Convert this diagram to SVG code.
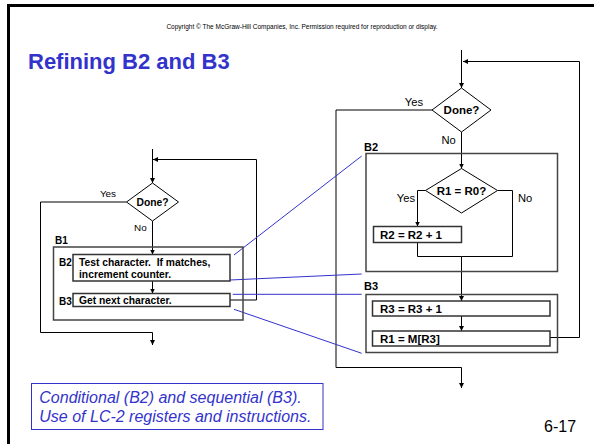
<svg xmlns="http://www.w3.org/2000/svg" width="594" height="444" viewBox="0 0 594 444">
<defs>
<marker id="ah" viewBox="0 0 10 10" refX="10" refY="5" markerWidth="5" markerHeight="5" markerUnits="userSpaceOnUse" orient="auto">
<path d="M0,0 L10,5 L0,10 z" fill="#000"/>
</marker>
</defs>
<style>
.ln{fill:none;stroke:#000;stroke-width:1}
.ar{fill:none;stroke:#000;stroke-width:1;marker-end:url(#ah)}
.bx{fill:#fff;stroke:#333;stroke-width:1.5}
.grp{fill:none;stroke:#444;stroke-width:1.5}
.dm{fill:#fff;stroke:#000;stroke-width:1}
.bl{stroke:#3333CC;stroke-width:1;fill:none}
text{font-family:"Liberation Sans",Arial,sans-serif;fill:#000}
.b{font-weight:bold}
.s{font-size:10.3px}
.m{font-size:11.5px}
</style>
<rect x="8.5" y="5.5" width="600" height="450" fill="#fff" stroke="#000" stroke-width="3"/>
<text x="302" y="28.5" font-size="6.5" text-anchor="middle" fill="#222">Copyright © The McGraw-Hill Companies, Inc.  Permission required for reproduction or display.</text>
<text x="28" y="68.5" font-size="22" class="b" style="fill:#3333CC">Refining B2 and B3</text>

<g id="connectors">
<!-- left chart -->
<path class="ar" d="M152.5,149 V183"/>
<path class="ar" d="M230,300 H256.5 V159.5 H153"/>
<path class="ar" d="M126.5,202 H40.5 V332.5 H152.5 V345"/>
<path class="ar" d="M152.5,221 V254.5"/>
<path class="ar" d="M152.5,281 V293.5"/>
<!-- right chart -->
<path class="ar" d="M461.5,50 V88"/>
<path class="ar" d="M550,337.5 H579.5 V61.5 H463"/>
<path class="ar" d="M432,110 H336 V367.5 H461.5 V388"/>
<path class="ar" d="M461.5,132 V168.5"/>
<path class="ar" d="M425.5,190.5 H417.5 V226.5"/>
<path class="ln" d="M497.5,190.5 H512.5 V256.5 H461.5"/>
<path class="ar" d="M417.5,242.5 V256.5 H461.5 V301"/>
<path class="ar" d="M461.5,316 V331"/>
<!-- blue mapping lines -->
<line class="bl" x1="234" y1="255" x2="361.7" y2="156"/>
<line class="bl" x1="230" y1="280" x2="361.7" y2="274"/>
<line class="bl" x1="232.7" y1="294.3" x2="361.7" y2="294.3"/>
<line class="bl" x1="234" y1="309.3" x2="361.7" y2="353.3"/>
</g>

<g id="left-done">
<polygon class="dm" points="152.5,183 178.5,202 152.5,221 126.5,202"/>
<text x="152.5" y="205.7" class="b s" text-anchor="middle">Done?</text>
<text x="116" y="197" font-size="9.9" text-anchor="end">Yes</text>
<text x="134" y="231" font-size="9.9">No</text>
</g>
<g id="left-B1">
<rect class="grp" x="53.5" y="247" width="189.5" height="73"/>
<text x="55" y="244" class="b" font-size="10">B1</text>
</g>
<g id="left-B2">
<rect class="bx" x="73" y="254.5" width="157" height="26.5"/>
<text x="59" y="266" class="b" font-size="10">B2</text>
<text x="79" y="266" class="b s">Test character.&#160; If matches,</text>
<text x="79" y="277.5" class="b s">increment counter.</text>
</g>
<g id="left-B3">
<rect class="bx" x="73" y="293.5" width="157" height="13"/>
<text x="59" y="304.5" class="b" font-size="10">B3</text>
<text x="79" y="304" class="b s">Get next character.</text>
</g>

<g id="right-done">
<polygon class="dm" points="461.5,88 491,110 461.5,132 432,110"/>
<text x="461.5" y="114" class="b m" text-anchor="middle">Done?</text>
<text x="423" y="105.5" font-size="11.2" text-anchor="end">Yes</text>
<text x="441.5" y="143.5" font-size="11.2">No</text>
</g>
<g id="right-B2">
<rect class="grp" x="366" y="153.5" width="191.5" height="118"/>
<text x="364" y="150.5" class="b" font-size="11">B2</text>
</g>
<g id="right-cond">
<polygon class="dm" points="461.5,168.5 497.5,190.5 461.5,213 425.5,190.5"/>
<text x="461.5" y="194.5" class="b m" text-anchor="middle">R1 = R0?</text>
<text x="415" y="201.5" font-size="11.2" text-anchor="end">Yes</text>
<text x="518" y="201.5" font-size="11.2">No</text>
</g>
<g id="right-inc2">
<rect class="bx" x="373.5" y="226.5" width="88" height="16"/>
<text x="380" y="239" class="b m">R2 = R2 + 1</text>
</g>
<g id="right-B3">
<rect class="grp" x="366" y="294.5" width="191.5" height="58"/>
<text x="364" y="290" class="b" font-size="11">B3</text>
</g>
<g id="right-inc3">
<rect class="bx" x="372.5" y="301" width="177.5" height="15"/>
<text x="380" y="312.5" class="b m">R3 = R3 + 1</text>
</g>
<g id="right-load">
<rect class="bx" x="372.5" y="331" width="177.5" height="15"/>
<text x="380" y="342.5" class="b m">R1 = M[R3]</text>
</g>

<g id="caption">
<rect x="31.5" y="383.5" width="291.5" height="46" fill="#fff" stroke="#3333CC" stroke-width="1"/>
<text x="39.3" y="403" font-size="16" font-style="italic" style="fill:#3333CC">Conditional (B2) and sequential (B3).</text>
<text x="39.3" y="421.5" font-size="16" font-style="italic" style="fill:#3333CC">Use of LC-2 registers and instructions.</text>
</g>
<text x="544" y="432" font-size="16">6-17</text>
</svg>
